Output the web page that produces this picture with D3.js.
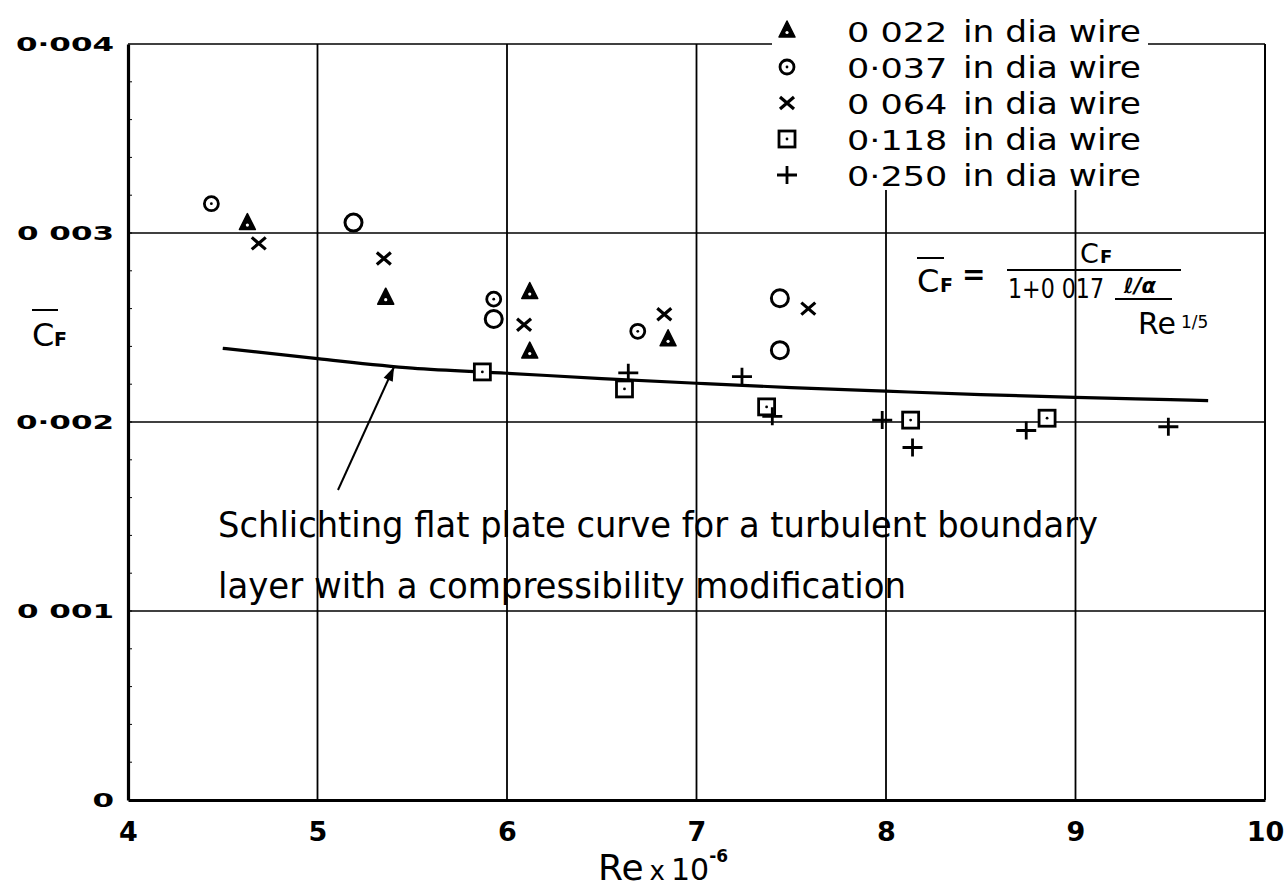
<!DOCTYPE html>
<html>
<head>
<meta charset="utf-8">
<script src="https://cdn.jsdelivr.net/npm/d3@7"></script>
<style>
  html, body { margin: 0; padding: 0; background: #fff; }
  svg { display: block; }
  text { font-family: "DejaVu Sans", sans-serif; fill: #000; }
</style>
</head>
<body>
<svg id="chart" width="1288" height="889"></svg>
<script>
// Axis ticks
const xTicks = [4, 5, 6, 7, 8, 9, 10];
const xTickLabels = ["4", "5", "6", "7", "8", "9", "10"];
const yTicks = [0, 0.001, 0.002, 0.003, 0.004];
const yTickLabels = ["0", "0 001", "0·002", "0 003", "0·004"];

// Series: mean skin-friction coefficient against Reynolds number (x 10^-6)
const wire022Re = [4.63, 5.36, 6.12, 6.12, 6.85];
const wire022Cf = [0.00305, 0.002655, 0.002685, 0.00237, 0.002435];

const wire037Re = [4.44, 5.93, 6.69];
const wire037Cf = [0.003155, 0.00265, 0.00248];
const wire037PlainRe = [5.19, 5.93, 7.44, 7.44];
const wire037PlainCf = [0.003055, 0.002545, 0.002655, 0.00238];

const wire064Re = [4.69, 5.35, 6.09, 6.83, 7.59];
const wire064Cf = [0.002945, 0.002865, 0.002515, 0.00257, 0.0026];

const wire118Re = [5.87, 6.62, 7.37, 8.13, 8.85];
const wire118Cf = [0.002265, 0.002175, 0.00208, 0.00201, 0.00202];

const wire250Re = [6.64, 7.24, 7.40, 7.98, 8.14, 8.74, 9.49];
const wire250Cf = [0.00226, 0.00224, 0.00203, 0.00201, 0.001865, 0.001955, 0.001975];

// Schlichting flat plate curve (compressibility modified)
const curveRe = [4.5, 5.0, 5.5, 6.0, 6.5, 7.0, 7.5, 8.0, 8.5, 9.0, 9.5, 9.7];
const curveCf = [0.00239, 0.002335, 0.002285, 0.002258, 0.00223, 0.002205, 0.002182, 0.002163, 0.002145, 0.00213, 0.002118, 0.002113];

const legendLabels = ["0 022", "0·037", "0 064", "0·118", "0·250"];
const legendUnit = "in dia wire";

const svg = d3.select("#chart");
const x = d3.scaleLinear().domain([4, 10]).range([128, 1265]);
const y = d3.scaleLinear().domain([0, 0.004]).range([800, 44]);

const ink = "#000";
const grid = svg.append("g");

// Legend box region (the grid is interrupted behind the legend)
const legendLeft = 772, legendRight = 1148, legendBottom = 190;

// Horizontal grid lines
yTicks.filter(v => v > 0 && v < 0.004).forEach(v => {
  grid.append("line").attr("x1", x(4)).attr("x2", x(10))
    .attr("y1", y(v)).attr("y2", y(v))
    .attr("stroke", ink).attr("stroke-width", 1.6);
});
// Top border, broken by the legend
grid.append("line").attr("x1", x(4)).attr("x2", legendLeft)
  .attr("y1", y(0.004)).attr("y2", y(0.004)).attr("stroke", ink).attr("stroke-width", 1.6);
grid.append("line").attr("x1", legendRight).attr("x2", x(10))
  .attr("y1", y(0.004)).attr("y2", y(0.004)).attr("stroke", ink).attr("stroke-width", 1.6);

// Vertical grid lines
xTicks.filter(v => v > 4 && v < 10).forEach(v => {
  const px = x(v);
  const top = (px > legendLeft && px < legendRight) ? legendBottom : y(0.004);
  grid.append("line").attr("x1", px).attr("x2", px)
    .attr("y1", top).attr("y2", y(0))
    .attr("stroke", ink).attr("stroke-width", 1.8);
});
// Right border
grid.append("line").attr("x1", x(10)).attr("x2", x(10))
  .attr("y1", y(0.004)).attr("y2", y(0)).attr("stroke", ink).attr("stroke-width", 2);

// Axes
const xAxis = d3.axisBottom(x).tickValues(xTicks)
  .tickFormat((d, i) => xTickLabels[i]).tickSize(0).tickPadding(22);
const gx = svg.append("g").attr("transform", `translate(0,${y(0)})`).call(xAxis);
gx.select(".domain").attr("stroke", ink).attr("stroke-width", 3.2);
gx.selectAll("text").attr("font-size", 27).attr("font-weight", "bold")
  .style("font-family", "DejaVu Sans");

const yAxis = d3.axisLeft(y).tickValues(yTicks)
  .tickFormat((d, i) => yTickLabels[i]).tickSize(0).tickPadding(14);
const gy = svg.append("g").attr("transform", `translate(${x(4)},0)`).call(yAxis);
gy.select(".domain").attr("stroke", ink).attr("stroke-width", 3.2);
gy.selectAll("text").attr("font-size", 20).attr("font-weight", "bold")
  .style("font-family", "DejaVu Sans")
  .each(function () {
    // wide hand-lettered figures
    const t = d3.select(this);
    const tx = +t.attr("x");
    t.attr("x", tx / 1.55).attr("transform", "scale(1.55,1)");
  });

// Minor tick marks along the inside of the left axis
d3.range(0.0002, 0.004, 0.0002).forEach(v => {
  svg.append("line").attr("x1", x(4)).attr("x2", x(4) + 4)
    .attr("y1", y(v)).attr("y2", y(v)).attr("stroke", ink).attr("stroke-width", 1);
});

// Axis titles
const yl = svg.append("g");
yl.append("text").attr("x", 32).attr("y", 346).attr("font-size", 32).text("C");
yl.append("text").attr("x", 54).attr("y", 346).attr("font-size", 19).attr("font-weight", "bold").text("F");
yl.append("line").attr("x1", 32).attr("x2", 58).attr("y1", 310).attr("y2", 310)
  .attr("stroke", ink).attr("stroke-width", 2);

const xt = svg.append("text").attr("x", 598).attr("y", 880).attr("font-size", 36);
xt.append("tspan").text("Re");
xt.append("tspan").attr("font-size", 26).attr("dx", 6).text("x");
xt.append("tspan").attr("dx", 6).attr("font-size", 30).text("10");
xt.append("tspan").attr("dy", -18).attr("font-size", 17).attr("font-weight", "bold").text("-6");

// Curve
const curvePts = curveRe.map((r, i) => [r, curveCf[i]]);
svg.append("path").datum(curvePts)
  .attr("d", d3.line().x(d => x(d[0])).y(d => y(d[1])).curve(d3.curveMonotoneX))
  .attr("fill", "none").attr("stroke", ink).attr("stroke-width", 3.2);

// Marker drawing
function marker(g, kind, cx, cy) {
  const s = g.append("g").attr("transform", `translate(${cx},${cy})`);
  if (kind === "tri") {
    s.append("path").attr("d", "M0,-10L8,6L-8,6Z").attr("fill", ink)
      .attr("stroke", ink).attr("stroke-width", 1.5).attr("stroke-linejoin", "round");
    s.append("circle").attr("cx", 0).attr("cy", 1.5).attr("r", 1.6).attr("fill", "#fff");
  } else if (kind === "dotcircle") {
    s.append("circle").attr("r", 7).attr("fill", "#fff").attr("stroke", ink).attr("stroke-width", 2.8);
    s.append("circle").attr("r", 1.4).attr("fill", ink);
  } else if (kind === "circle") {
    s.append("circle").attr("r", 8.5).attr("fill", "none").attr("stroke", ink).attr("stroke-width", 3);
  } else if (kind === "cross") {
    s.append("path").attr("d", "M-7,-6L7,6M-7,6L7,-6").attr("stroke", ink)
      .attr("stroke-width", 3.2).attr("fill", "none");
  } else if (kind === "square") {
    s.append("rect").attr("x", -8).attr("y", -8).attr("width", 16).attr("height", 16)
      .attr("fill", "#fff").attr("stroke", ink).attr("stroke-width", 2.8);
    s.append("circle").attr("r", 1.4).attr("fill", ink);
  } else if (kind === "plus") {
    s.append("path").attr("d", "M-10,0L10,0M0,-9L0,9").attr("stroke", ink)
      .attr("stroke-width", 2.8).attr("fill", "none");
  }
}

const pts = svg.append("g");
const series = [
  ["tri", wire022Re, wire022Cf],
  ["dotcircle", wire037Re, wire037Cf],
  ["circle", wire037PlainRe, wire037PlainCf],
  ["cross", wire064Re, wire064Cf],
  ["square", wire118Re, wire118Cf],
  ["plus", wire250Re, wire250Cf]
];
series.forEach(([kind, res, cfs]) => {
  res.forEach((r, i) => marker(pts, kind, x(r), y(cfs[i])));
});

// Legend
const legendKinds = ["tri", "dotcircle", "cross", "square", "plus"];
const lg = svg.append("g");
legendKinds.forEach((k, i) => {
  const cy = 31 + i * 36;
  marker(lg, k, 787, cy);
  lg.append("text").attr("y", cy + 11).attr("font-size", 27)
    .attr("transform", "scale(1.3,1)").attr("x", 847 / 1.3).text(legendLabels[i]);
  lg.append("text").attr("x", 963).attr("y", cy + 11).attr("font-size", 31)
    .attr("textLength", 178).attr("lengthAdjust", "spacingAndGlyphs").text(legendUnit);
});

// Formula
const f = svg.append("g");
f.append("text").attr("x", 917).attr("y", 292).attr("font-size", 32).text("C");
f.append("text").attr("x", 940).attr("y", 292).attr("font-size", 19).attr("font-weight", "bold").text("F");
f.append("line").attr("x1", 917).attr("x2", 944).attr("y1", 258).attr("y2", 258)
  .attr("stroke", ink).attr("stroke-width", 2);
f.append("text").attr("x", 962).attr("y", 284).attr("font-size", 28).attr("font-weight", "bold").text("=");
f.append("line").attr("x1", 1007).attr("x2", 1181).attr("y1", 270).attr("y2", 270)
  .attr("stroke", ink).attr("stroke-width", 2.2);
f.append("text").attr("x", 1080).attr("y", 263).attr("font-size", 27).text("C");
f.append("text").attr("x", 1100).attr("y", 263).attr("font-size", 18).attr("font-weight", "bold").text("F");
f.append("text").attr("x", 1008).attr("y", 298).attr("font-size", 27)
  .attr("textLength", 96).attr("lengthAdjust", "spacingAndGlyphs").text("1+0 017");
f.append("text").attr("x", 1124).attr("y", 293).attr("font-size", 21)
  .attr("font-style", "italic").attr("font-weight", "bold").text("ℓ/α");
f.append("line").attr("x1", 1115).attr("x2", 1172).attr("y1", 299).attr("y2", 299)
  .attr("stroke", ink).attr("stroke-width", 2);
f.append("text").attr("x", 1138).attr("y", 334).attr("font-size", 30).text("Re");
f.append("text").attr("x", 1181).attr("y", 328).attr("font-size", 17).text("1/5");

// Annotation
svg.append("text").attr("x", 218).attr("y", 537).attr("font-size", 36)
  .attr("textLength", 880).attr("lengthAdjust", "spacingAndGlyphs")
  .text("Schlichting flat plate curve for a turbulent boundary");
svg.append("text").attr("x", 218).attr("y", 598).attr("font-size", 36)
  .attr("textLength", 688).attr("lengthAdjust", "spacingAndGlyphs")
  .text("layer with a compressibility modification");

// Leader arrow to the curve
const ax0 = 338, ay0 = 490, ax1 = 394, ay1 = 367;
svg.append("line").attr("x1", ax0).attr("y1", ay0).attr("x2", ax1).attr("y2", ay1)
  .attr("stroke", ink).attr("stroke-width", 2);
const ang = Math.atan2(ay1 - ay0, ax1 - ax0);
const ah = 14, aw = 5;
const bx = ax1 - ah * Math.cos(ang), by = ay1 - ah * Math.sin(ang);
svg.append("path")
  .attr("d", `M${ax1},${ay1}L${bx + aw * Math.sin(ang)},${by - aw * Math.cos(ang)}L${bx - aw * Math.sin(ang)},${by + aw * Math.cos(ang)}Z`)
  .attr("fill", ink);
</script>
</body>
</html>
